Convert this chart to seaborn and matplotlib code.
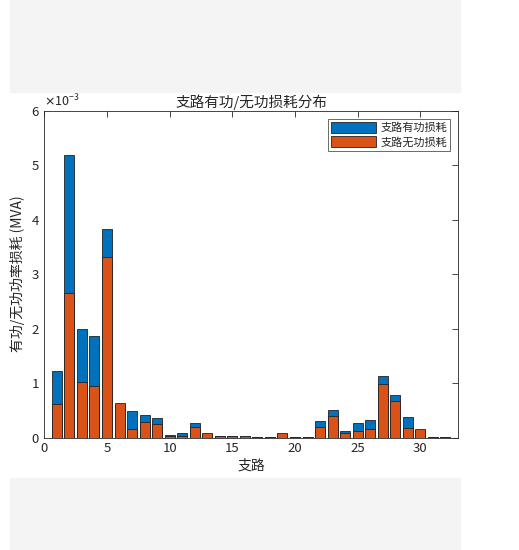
import numpy as np
import pandas as pd
import matplotlib
matplotlib.use('Agg')
import matplotlib.pyplot as plt
import seaborn as sns
from matplotlib.ticker import ScalarFormatter
from matplotlib.patches import Rectangle

# 支路编号与损耗 (MVA)
branch = list(range(1, 33))
p_loss = [1.22, 5.18, 1.99, 1.87, 3.83, 0.60, 0.48, 0.42, 0.36, 0.05,
          0.09, 0.26, 0.07, 0.02, 0.02, 0.02, 0.01, 0.01, 0.06, 0.01,
          0.005, 0.31, 0.51, 0.12, 0.26, 0.32, 1.13, 0.79, 0.38, 0.13,
          0.01, 0.005]
q_loss = [0.62, 2.65, 1.02, 0.95, 3.31, 0.63, 0.15, 0.29, 0.25, 0.02,
          0.03, 0.20, 0.09, 0.03, 0.03, 0.03, 0.01, 0.01, 0.08, 0.01,
          0.005, 0.20, 0.39, 0.08, 0.12, 0.16, 0.99, 0.67, 0.18, 0.15,
          0.01, 0.005]

df = pd.DataFrame({'支路': branch,
                   'P': np.array(p_loss) * 1e-3,
                   'Q': np.array(q_loss) * 1e-3})

sns.set_style('white')
plt.rcParams['font.family'] = ['Noto Sans CJK SC', 'DejaVu Sans']
plt.rcParams['axes.unicode_minus'] = False

fig = plt.figure(figsize=(5.19, 5.5), dpi=100)
# 灰色背景条
fig.patches.append(Rectangle((10 / 519, 1 - 92 / 550), 450 / 519, 92 / 550,
                             transform=fig.transFigure, color='#f4f4f4', zorder=0))
fig.patches.append(Rectangle((10 / 519, 0), 450 / 519, 72 / 550,
                             transform=fig.transFigure, color='#f4f4f4', zorder=0))

ax = fig.add_axes([0.0854, 0.2045, 0.797, 0.594])

sns.barplot(data=df, x='支路', y='P', native_scale=True, width=0.8,
            color='#0072BD', saturation=1, edgecolor='#222222', linewidth=0.6,
            label='支路有功损耗', ax=ax)
sns.barplot(data=df, x='支路', y='Q', native_scale=True, width=0.8,
            color='#D95319', saturation=1, edgecolor='#222222', linewidth=0.6,
            label='支路无功损耗', ax=ax)

ax.set_xlim(0, 33)
ax.set_ylim(0, 6e-3)
ax.set_xticks(np.arange(0, 31, 5))
ax.set_yticks(np.arange(0, 7e-3, 1e-3))
fmt = ScalarFormatter(useMathText=True)
fmt.set_powerlimits((-3, -3))
ax.yaxis.set_major_formatter(fmt)
ax.yaxis.get_offset_text().set_fontsize(9)
ax.yaxis.get_offset_text().set_color('#262626')

for s in ax.spines.values():
    s.set_visible(True)
    s.set_color('#262626')
    s.set_linewidth(0.6)
ax.tick_params(direction='in', top=True, right=True, length=4, width=0.6,
               labelsize=9.5, colors='#262626')

ax.set_title('支路有功/无功损耗分布', fontsize=10.5, color='#262626', pad=3)
ax.set_xlabel('支路', fontsize=10, color='#262626', labelpad=2)
ax.set_ylabel('有功/无功功率损耗 (MVA)', fontsize=10, color='#262626', labelpad=4)

leg = ax.legend(loc='upper right', fontsize=8, frameon=True, fancybox=False,
                edgecolor='#262626', handlelength=4, handleheight=1.1,
                borderaxespad=0.7, labelspacing=0.3, handletextpad=0.4,
                borderpad=0.3)
leg.get_frame().set_linewidth(0.6)

fig.savefig('out.png', dpi=100)
